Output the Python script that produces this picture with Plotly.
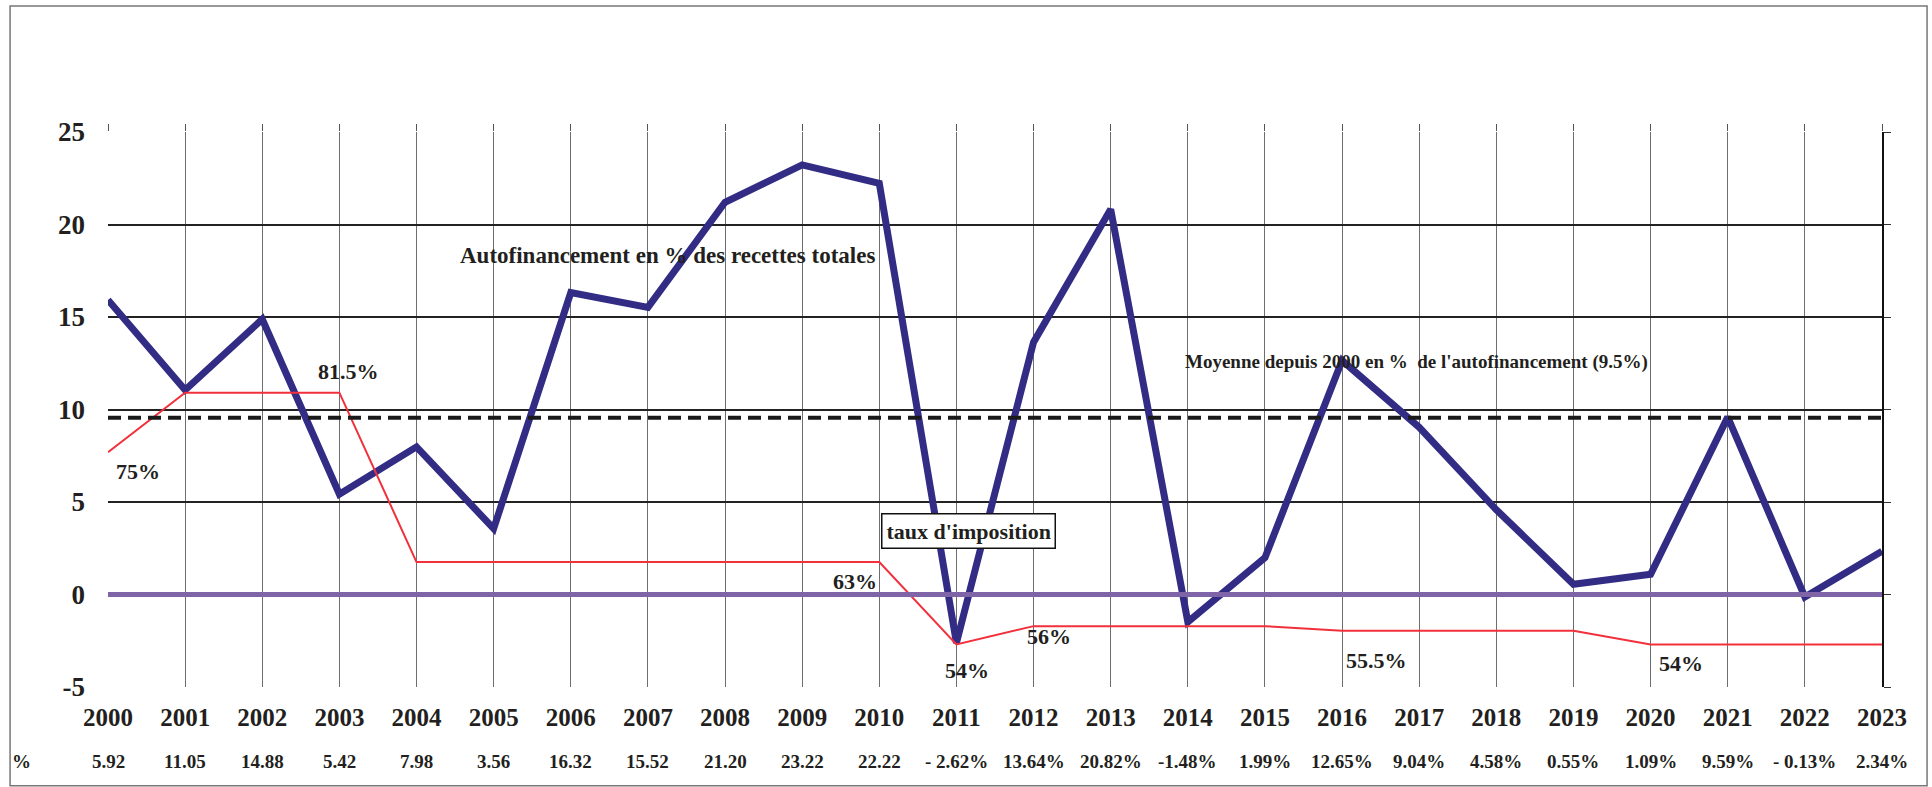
import plotly.graph_objects as go

years = list(range(2000, 2024))
autofin = [15.92, 11.05, 14.88, 5.42, 7.98, 3.56, 16.32, 15.52, 21.20, 23.22, 22.22, -2.62,
           13.64, 20.82, -1.48, 1.99, 12.65, 9.04, 4.58, 0.55, 1.09, 9.59, -0.13, 2.34]
value_labels = ["5.92", "11.05", "14.88", "5.42", "7.98", "3.56", "16.32", "15.52", "21.20",
                "23.22", "22.22", "- 2.62%", "13.64%", "20.82%", "-1.48%", "1.99%", "12.65%",
                "9.04%", "4.58%", "0.55%", "1.09%", "9.59%", "- 0.13%", "2.34%"]
tax_rate = [75, 81.5, 81.5, 81.5, 63, 63, 63, 63, 63, 63, 63, 54,
            56, 56, 56, 56, 55.5, 55.5, 55.5, 55.5, 54, 54, 54, 54]
average = 9.55
y_ticks = [-5, 0, 5, 10, 15, 20, 25]
y_ticktext = ["-5", "0", "5", "10", "15", "20", "25"]
# (year, rate, text, xshift, yshift)
tax_labels = [(2000, 75, "75%", 30, -19), (2003, 81.5, "81.5%", 9, 21),
              (2010, 63, "63%", -24, -19), (2011, 54, "54%", 11, -26),
              (2012, 56, "56%", 15, -10), (2016, 55.5, "55.5%", 34, -30),
              (2020, 54, "54%", 30, -19)]

FONT = "Liberation Serif"
BLUE = "#322C85"
RED = "#F2303C"
PURPLE = "#8064A8"

fig = go.Figure()
fig.add_trace(go.Scatter(x=years, y=autofin, mode="lines",
                         line=dict(color=BLUE, width=7), hoverinfo="skip", showlegend=False))
fig.add_trace(go.Scatter(x=years, y=tax_rate, yaxis="y2", mode="lines",
                         line=dict(color=RED, width=2), hoverinfo="skip", showlegend=False))
# invisible helpers so that the top / right axes are drawn
fig.add_trace(go.Scatter(x=years, y=autofin, xaxis="x2", mode="lines", opacity=0,
                         hoverinfo="skip", showlegend=False))
fig.add_trace(go.Scatter(x=years, y=autofin, yaxis="y3", mode="lines", opacity=0,
                         hoverinfo="skip", showlegend=False))

fig.add_hline(y=0, line=dict(color=PURPLE, width=5), layer="above")
fig.add_hline(y=average, line=dict(color="#1a1a1a", width=4, dash="13px,7px"), layer="above")

xr = [2000, 2023]
yr = [-5, 25]
fig.update_layout(
    width=1932, height=787,
    margin=dict(l=108, r=50, t=132, b=100),
    paper_bgcolor="white", plot_bgcolor="white",
    font=dict(family=FONT, color="#231f20"),
    xaxis=dict(range=xr, tickvals=years, ticktext=[str(y) for y in years],
               showgrid=False, zeroline=False, showline=False, ticks="",
               tickfont=dict(size=25, family=FONT, weight="bold", color="#231f20"),
               ticklabelstandoff=13,
               minor=dict(tickvals=years[1:-1], showgrid=True, gridcolor="#6e6e6e", gridwidth=1.2)),
    xaxis2=dict(range=xr, overlaying="x", side="top", tickvals=years, ticks="outside",
                ticklen=7, tickcolor="#555", tickwidth=1.2, showticklabels=False,
                showgrid=False, zeroline=False, showline=False),
    yaxis=dict(range=yr, tickvals=y_ticks, ticktext=y_ticktext, showgrid=False,
               zeroline=False, showline=False, ticks="",
               tickfont=dict(size=27, family=FONT, weight="bold", color="#231f20"),
               ticklabelstandoff=22,
               minor=dict(tickvals=y_ticks[2:], showgrid=True, gridcolor="#222",
                          gridwidth=2)),
    yaxis2=dict(range=[49.35, 109.98], overlaying="y", side="right", visible=False),
    yaxis3=dict(range=yr, overlaying="y", side="right", dtick=5, tick0=0, ticks="outside",
                ticklen=7, tickcolor="#333", showticklabels=False, showgrid=False,
                zeroline=False, showline=True, linecolor="#111", linewidth=2),
    showlegend=False,
)

# frame
fig.add_shape(type="rect", xref="paper", yref="paper", x0=-0.0552, x1=1.0254,
              y0=-0.178, y1=1.227, line=dict(color="#777", width=1.5), layer="below")

# bottom value row
fig.add_annotation(x=-0.0485, y=-0.135, xref="paper", yref="paper", text="%",
                   xanchor="center", yanchor="middle", showarrow=False,
                   font=dict(size=19, family=FONT, weight="bold"))
for yv, lab in zip(years, value_labels):
    fig.add_annotation(x=yv, y=-0.135, xref="x", yref="paper", text=lab, showarrow=False,
                       xanchor="center", yanchor="middle",
                       font=dict(size=19, family=FONT, weight="bold"))

# titles
fig.add_annotation(x=2007.25, y=18.3, xref="x", yref="y",
                   text="Autofinancement en % des recettes totales", showarrow=False,
                   font=dict(size=23, family=FONT, weight="bold"))
fig.add_annotation(x=2016.97, y=12.55, xref="x", yref="y",
                   text="Moyenne depuis 2000 en %  de l'autofinancement (9.5%)", showarrow=False,
                   font=dict(size=19, family=FONT, weight="bold"))
fig.add_annotation(x=2011.15, y=3.45, xref="x", yref="y", text="taux d'imposition",
                   showarrow=False, bgcolor="white", bordercolor="#111", borderwidth=1.5,
                   borderpad=4, font=dict(size=22, family=FONT, weight="bold"))

for yv, rate, txt, dx, dy in tax_labels:
    fig.add_annotation(x=yv, y=rate, xref="x", yref="y2", text=txt, showarrow=False,
                       xshift=dx, yshift=dy, font=dict(size=22, family=FONT, weight="bold"))

fig.write_html("out.html", config={"displayModeBar": False},
               post_script="document.body.style.margin='0px';document.body.style.overflow='hidden';")
